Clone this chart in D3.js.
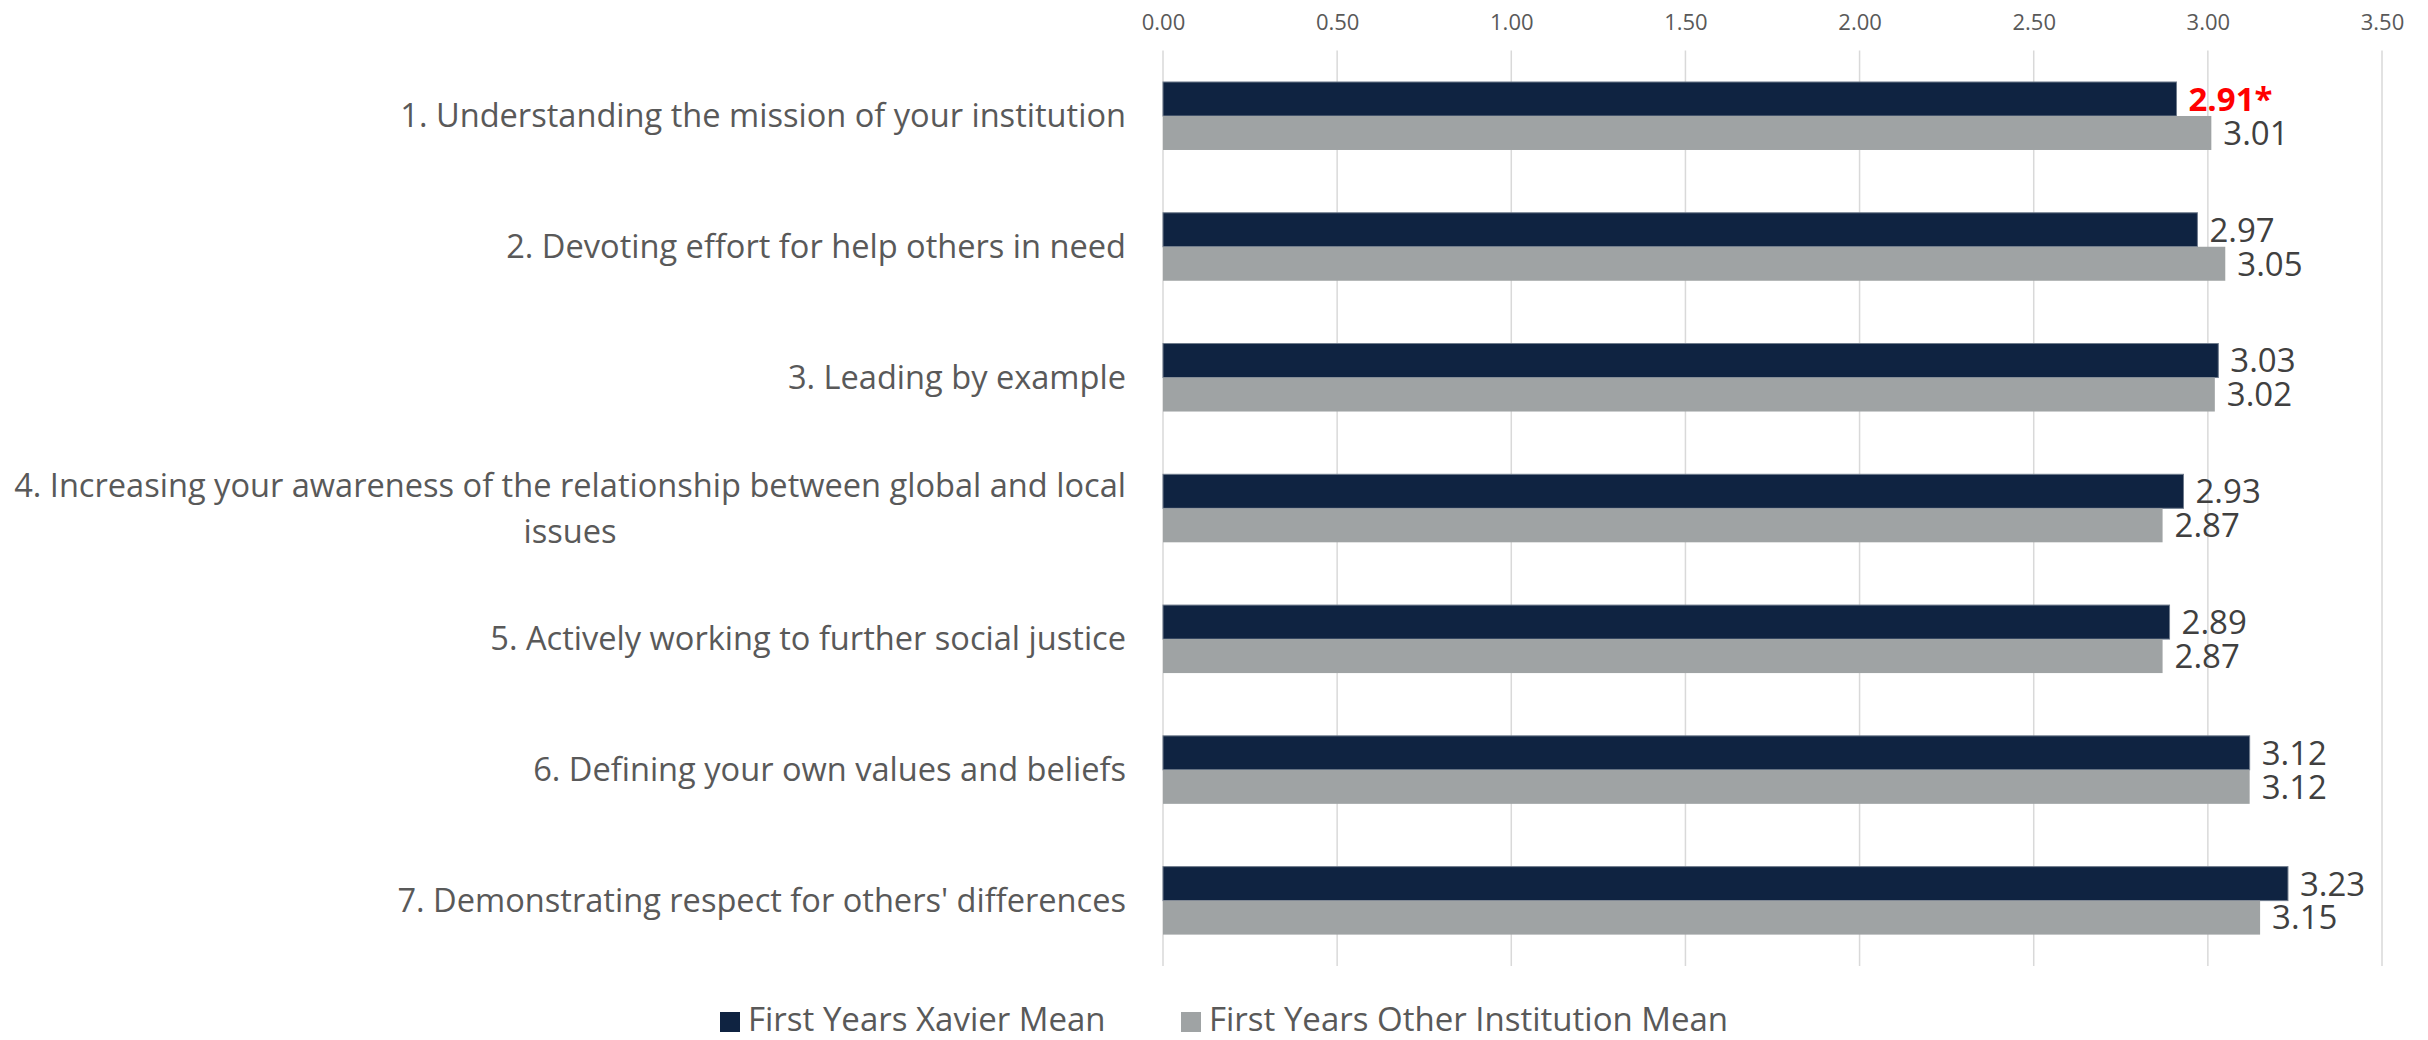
<!DOCTYPE html>
<html>
<head>
<meta charset="utf-8">
<script src="https://cdn.jsdelivr.net/npm/d3@7"></script>
<style>
  body { margin: 0; background: #fff; }
  text { font-family: "Open Sans", "Noto Sans", sans-serif; }
</style>
</head>
<body>
<svg id="chart" width="2428" height="1040"></svg>
<script>
// categories, one label per row (\n = forced wrap like in the source)
var categories = [
    '1. Understanding the mission of your institution',
    '2. Devoting effort for help others in need',
    '3. Leading by example',
    '4. Increasing your awareness of the relationship between global and local\nissues',
    '5. Actively working to further social justice',
    '6. Defining your own values and beliefs',
    "7. Demonstrating respect for others' differences"
]
var xavierMean = [2.91, 2.97, 3.03, 2.93, 2.89, 3.12, 3.23]
var otherMean = [3.01, 3.05, 3.02, 2.87, 2.87, 3.12, 3.15]
// significant differences get a red bold label with *
var significant = [true, false, false, false, false, false, false]
var xTicks = [0, 0.5, 1, 1.5, 2, 2.5, 3, 3.5]

var series = [
    { name: 'First Years Xavier Mean', key: 'xavier', color: '#0f2341' },
    { name: 'First Years Other Institution Mean', key: 'other', color: '#9fa3a4' }
]

var rows = categories.map(function (c, i) {
    return { label: c, xavier: xavierMean[i], other: otherMean[i], sig: significant[i] }
})

var svg = d3.select('#chart')
var plot = { left: 1163, right: 2382, top: 50.6, bottom: 966 }

var x = d3.scaleLinear().domain([0, 3.5]).range([plot.left, plot.right])
var y = d3.scaleBand().domain(categories).range([plot.top, plot.bottom])
    .paddingInner(0.48).paddingOuter(0.24)
var ySub = d3.scaleBand().domain(series.map(function (s) { return s.key }))
    .range([0, y.bandwidth()])

// gridlines
svg.append('g').selectAll('line')
    .data(xTicks)
    .enter().append('line')
    .attr('x1', function (d) { return x(d) }).attr('x2', function (d) { return x(d) })
    .attr('y1', plot.top).attr('y2', plot.bottom)
    .attr('stroke', '#d9d9d9').attr('stroke-width', 1.5)

// top axis labels
var axis = svg.append('g')
    .attr('transform', 'translate(0,30)')
    .call(d3.axisTop(x).tickValues(xTicks).tickFormat(d3.format('.2f')).tickSize(0).tickPadding(0))
axis.select('.domain').remove()
axis.selectAll('text')
    .attr('fill', '#595959')
    .style('font-size', '22px')

// bars
var groups = svg.append('g').selectAll('g')
    .data(rows)
    .enter().append('g')
    .attr('transform', function (d) { return 'translate(0,' + y(d.label) + ')' })

series.forEach(function (s) {
    groups.append('rect')
        .attr('x', x(0))
        .attr('y', ySub(s.key))
        .attr('width', function (d) { return x(d[s.key]) - x(0) })
        .attr('height', ySub.bandwidth())
        .attr('fill', s.color)
        .attr('stroke', s.key == 'xavier' ? '#6f7b8c' : 'none')
        .attr('stroke-width', 1)

    groups.append('text')
        .attr('x', function (d) { return x(d[s.key]) + 12 })
        .attr('y', ySub(s.key) + ySub.bandwidth() / 2)
        .attr('dy', '0.36em')
        .style('font-size', '33px')
        .style('font-weight', function (d) { return s.key == 'xavier' && d.sig ? 'bold' : 'normal' })
        .attr('fill', function (d) { return s.key == 'xavier' && d.sig ? '#ff0000' : '#404040' })
        .text(function (d) { return d[s.key].toFixed(2) + (s.key == 'xavier' && d.sig ? '*' : '') })
})

// category labels, right aligned, wrapped lines centred under the first one
groups.each(function (d) {
    var lines = d.label.split('\n')
    var cy = y.bandwidth() / 2 - (lines.length - 1) * 46 / 2
    var first = d3.select(this).append('text')
        .attr('x', 1126)
        .attr('y', cy)
        .attr('dy', '0.35em')
        .attr('text-anchor', 'end')
        .attr('fill', '#595959')
        .style('font-size', '32.6px')
        .text(lines[0])
    if (lines.length > 1) {
        var w = first.node().getComputedTextLength()
        for (var i = 1; i < lines.length; i++) {
            d3.select(this).append('text')
                .attr('x', 1126 - w / 2)
                .attr('y', cy + i * 46)
                .attr('dy', '0.35em')
                .attr('text-anchor', 'middle')
                .attr('fill', '#595959')
                .style('font-size', '32.6px')
                .text(lines[i])
        }
    }
})

// legend
var legendX = [720, 1181]
var legend = svg.append('g').selectAll('g')
    .data(series)
    .enter().append('g')
    .attr('transform', function (d, i) { return 'translate(' + legendX[i] + ',1019)' })
legend.append('rect')
    .attr('x', 0).attr('y', -7)
    .attr('width', 20).attr('height', 20)
    .attr('fill', function (d) { return d.color })
legend.append('text')
    .attr('x', 28)
    .attr('dy', '0.35em')
    .attr('fill', '#595959')
    .style('font-size', '33px')
    .text(function (d) { return d.name })
</script>
</body>
</html>
